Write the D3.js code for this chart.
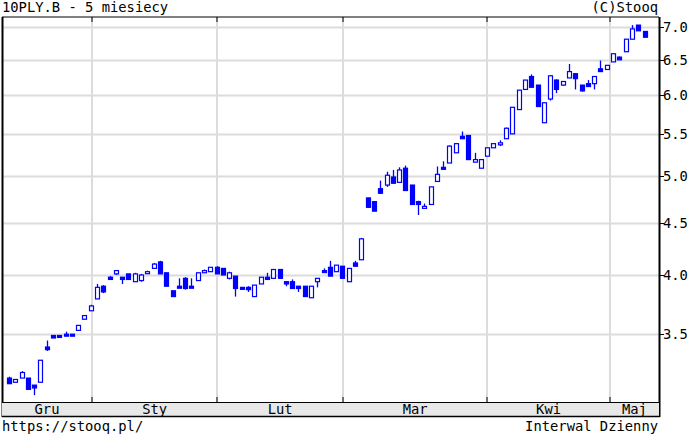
<!DOCTYPE html>
<html><head><meta charset="utf-8">
<script src="https://cdn.jsdelivr.net/npm/d3@7"></script>
<style>body{margin:0;background:#fff}svg{display:block}text{font-family:"DejaVu Sans Mono",monospace;font-size:13.8px}</style>
</head><body><svg id="c" width="691" height="437"></svg>
<script>
const opens=[3.17,3.14,3.17,3.17,3.12,3.14,3.40,3.49,3.49,3.50,3.50,3.53,3.62,3.69,3.79,3.90,3.98,4.01,3.98,4.01,3.94,3.95,4.03,4.06,4.12,4.02,3.86,3.90,3.97,3.90,3.95,4.02,4.03,4.07,4.06,3.97,3.99,3.89,3.89,3.81,3.92,3.98,3.97,4.05,3.94,3.94,3.90,3.90,3.80,3.94,4.04,4.07,4.03,4.08,3.94,4.11,4.14,4.76,4.72,4.86,4.90,4.99,4.93,5.09,4.90,4.72,4.67,4.69,4.94,5.10,5.15,5.27,5.47,5.48,5.16,5.09,5.23,5.33,5.38,5.44,5.50,5.81,6.08,6.26,6.14,5.64,5.95,6.21,6.14,6.24,6.30,6.14,6.16,6.16,6.37,6.36,6.47,6.54,6.62,6.81,7.03,6.93];
const highs=[3.18,3.16,3.22,3.17,3.12,3.30,3.45,3.49,3.49,3.52,3.50,3.57,3.65,3.74,3.92,3.91,3.99,4.04,3.98,4.01,4.02,4.01,4.04,4.11,4.13,4.02,3.86,3.97,3.98,3.97,4.02,4.05,4.07,4.08,4.06,4.03,3.99,3.89,3.90,3.91,3.98,4.02,4.05,4.05,3.94,3.96,3.90,3.90,3.90,3.97,4.06,4.13,4.09,4.08,4.06,4.13,4.35,4.76,4.72,4.95,5.05,5.07,5.10,5.12,4.90,4.73,4.70,4.88,5.11,5.17,5.36,5.38,5.53,5.48,5.27,5.19,5.33,5.38,5.42,5.58,5.84,6.07,6.21,6.29,6.14,5.90,6.28,6.22,6.19,6.44,6.31,6.14,6.21,6.26,6.49,6.42,6.59,6.55,6.81,7.03,7.03,6.93];
const lows=[3.13,3.14,3.17,3.09,3.05,3.14,3.37,3.47,3.48,3.49,3.49,3.53,3.62,3.69,3.79,3.84,3.96,4.00,3.92,3.96,3.94,3.94,4.03,4.06,4.01,3.90,3.81,3.89,3.87,3.89,3.95,4.02,4.03,4.01,4.00,3.96,3.81,3.88,3.85,3.81,3.92,3.96,3.97,3.97,3.90,3.88,3.85,3.81,3.80,3.89,4.03,3.99,4.03,3.97,3.94,4.08,4.14,4.66,4.62,4.81,4.88,4.92,4.93,4.84,4.69,4.58,4.66,4.69,4.94,5.08,5.15,5.27,5.44,5.19,5.16,5.09,5.23,5.33,5.35,5.44,5.50,5.81,6.08,6.11,5.85,5.64,5.93,6.03,6.13,6.24,6.08,6.05,6.12,6.08,6.33,6.36,6.47,6.50,6.62,6.81,6.94,6.84];
const closes=[3.13,3.16,3.21,3.09,3.10,3.30,3.38,3.47,3.48,3.49,3.49,3.57,3.65,3.73,3.89,3.85,3.96,4.04,3.96,3.96,4.01,4.00,4.03,4.10,4.01,3.90,3.81,3.89,3.88,3.89,4.02,4.04,4.07,4.01,4.00,4.02,3.88,3.88,3.87,3.91,3.98,3.96,4.05,3.97,3.92,3.88,3.88,3.81,3.90,3.97,4.03,3.99,4.09,3.97,4.06,4.08,4.34,4.66,4.62,4.81,5.01,4.92,5.07,4.84,4.69,4.69,4.67,4.88,5.02,5.08,5.35,5.38,5.44,5.19,5.19,5.19,5.33,5.38,5.39,5.57,5.84,6.07,6.21,6.11,5.85,5.90,6.27,6.08,6.19,6.33,6.23,6.06,6.12,6.26,6.33,6.42,6.59,6.50,6.81,6.97,6.94,6.84];
const yTicks=[3.5,4.0,4.5,5.0,5.5,6.0,6.5,7.0];
const monthStarts=[13.2,33.1,53.1,76,95.5];
const monthLabels=["Gru","Sty","Lut","Mar","Kwi","Maj"];

const svg=d3.select("#c");
const L=2,R=659,T=17,B=402;
const x=d3.scaleLinear().domain([-1.1,103.3]).range([L,R]);
const k=(275-27)/Math.log(7/4);
const y=d3.scaleLog().domain([4*Math.exp(-(B-275)/k),4*Math.exp((275-T)/k)]).range([B,T]);

svg.append("rect").attr("x",L).attr("y",T).attr("width",R-L).attr("height",B-T).attr("fill","#fff");
svg.append("g").selectAll("line").data(yTicks).join("line")
 .attr("x1",L).attr("x2",R).attr("y1",d=>Math.round(y(d))+0.5).attr("y2",d=>Math.round(y(d))+0.5)
 .attr("stroke","#dcdcdc").attr("stroke-width",2);
svg.append("g").selectAll("line").data(monthStarts).join("line")
 .attr("x1",d=>Math.round(x(d))).attr("x2",d=>Math.round(x(d))).attr("y1",T).attr("y2",B)
 .attr("stroke","#dcdcdc").attr("stroke-width",2);
svg.append("g").selectAll("line").data(monthStarts).join("line")
 .attr("x1",d=>Math.round(x(d))).attr("x2",d=>Math.round(x(d))).attr("y1",T).attr("y2",T+5).attr("stroke","#000");
svg.append("g").selectAll("line").data(monthStarts).join("line")
 .attr("x1",d=>Math.round(x(d))).attr("x2",d=>Math.round(x(d))).attr("y1",B-5).attr("y2",B).attr("stroke","#000");

const idx=d3.range(opens.length);
const g=svg.append("g");
g.selectAll("line").data(idx).join("line")
 .attr("x1",i=>Math.round(x(i))+0.5).attr("x2",i=>Math.round(x(i))+0.5)
 .attr("y1",i=>y(highs[i])).attr("y2",i=>y(lows[i])).attr("stroke","#0000ff").attr("stroke-width",1.3);
g.selectAll("rect").data(idx).join("rect")
 .attr("x",i=>Math.round(x(i))-1.5).attr("width",4)
 .attr("y",i=>y(Math.max(opens[i],closes[i]))).attr("height",i=>Math.max(2,Math.abs(y(opens[i])-y(closes[i]))))
 .attr("fill",i=>closes[i]>=opens[i]?"#fff":"#0000ff").attr("stroke","#0000ff").attr("stroke-width",1.2);

svg.append("line").attr("x1",L).attr("x2",R).attr("y1",T).attr("y2",T).attr("stroke","#000");
svg.append("line").attr("x1",L+0.5).attr("x2",L+0.5).attr("y1",T).attr("y2",417).attr("stroke","#000").attr("stroke-width",2);
svg.append("line").attr("x1",R+0.5).attr("x2",R+0.5).attr("y1",T).attr("y2",417).attr("stroke","#000").attr("stroke-width",2);
svg.append("rect").attr("x",L).attr("y",B).attr("width",R-L).attr("height",14).attr("fill","#e8e8e8");
svg.append("line").attr("x1",L).attr("x2",R+1).attr("y1",B+0.5).attr("y2",B+0.5).attr("stroke","#000");
svg.append("line").attr("x1",L).attr("x2",R+1).attr("y1",416.5).attr("y2",416.5).attr("stroke","#000").attr("stroke-width",1.5);
const bounds=[-1.1,...monthStarts,103.3];
svg.append("g").selectAll("text").data(monthLabels).join("text")
 .attr("x",(d,i)=>(x(bounds[i])+x(bounds[i+1]))/2).attr("y",414).attr("text-anchor","middle")
 .attr("fill","#000").text(d=>d);
const ax=svg.append("g");
ax.selectAll("line").data(yTicks).join("line").attr("x1",R).attr("x2",R+5)
 .attr("y1",d=>Math.round(y(d))+0.5).attr("y2",d=>Math.round(y(d))+0.5).attr("stroke","#000");
ax.selectAll("text").data(yTicks).join("text").attr("x",663).attr("y",d=>y(d)+5)
 .attr("fill","#000").text(d=>d.toFixed(1));
svg.append("text").attr("x",2).attr("y",12).text("10PLY.B - 5 miesiecy");
svg.append("text").attr("x",658).attr("y",12).attr("text-anchor","end").text("(C)Stooq");
svg.append("text").attr("x",2).attr("y",431).text("https://stooq.pl/");
svg.append("text").attr("x",658).attr("y",431).attr("text-anchor","end").text("Interwal Dzienny");
</script></body></html>
